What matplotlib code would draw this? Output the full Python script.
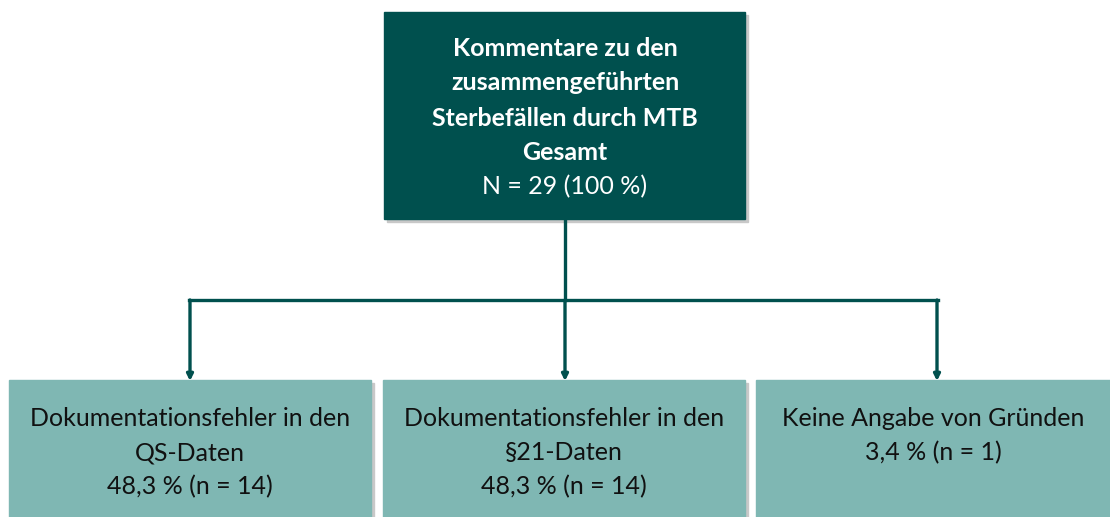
import matplotlib.pyplot as plt
from matplotlib.patches import Rectangle

# chart content
top_title = ['Kommentare zu den', 'zusammengeführten', 'Sterbefällen durch MTB', 'Gesamt']
top_total = 29
categories = ['Dokumentationsfehler in den\nQS-Daten',
              'Dokumentationsfehler in den\n§21-Daten',
              'Keine Angabe von Gründen']
percents = ['48,3', '48,3', '3,4']
counts = [14, 14, 1]

dark = '#00504e'
light = '#7fb7b3'

plt.rcParams['font.family'] = ['Lato', 'DejaVu Sans']

fig = plt.figure(figsize=(11.1, 5.17), dpi=100)
ax = fig.add_axes([0, 0, 1, 1])
ax.set_xlim(0, 1110)
ax.set_ylim(517, 0)
ax.axis('off')


def box(x0, y0, x1, y1, color):
    # soft shadow, then the box
    ax.add_patch(Rectangle((x0 + 3, y0 + 3), x1 - x0, y1 - y0, color='#c8c8c8', zorder=1))
    ax.add_patch(Rectangle((x0, y0), x1 - x0, y1 - y0, color=color, zorder=2))


# top box
box(384, 12, 745, 219, dark)
for i, line in enumerate(top_title):
    ax.text(565, 48 + i * 35, line, ha='center', va='center', color='white',
            fontsize=18, fontweight='bold', zorder=3)
ax.text(565, 187, f'N = {top_total} (100 %)', ha='center', va='center',
        color='white', fontsize=18, zorder=3)

# connectors
ax.plot([565, 565], [219, 300], color=dark, lw=2.4, zorder=2)
ax.plot([189, 938], [300, 300], color=dark, lw=2.4, zorder=2, solid_capstyle='projecting')

bottom_x = [(9, 371), (383, 745), (756, 1110)]
arrow_x = [190, 565, 937]
for (x0, x1), ax_x, cat, p, n in zip(bottom_x, arrow_x, categories, percents, counts):
    box(x0, 380, x1, 530, light)
    ax.annotate('', xy=(ax_x, 381), xytext=(ax_x, 300),
                arrowprops=dict(arrowstyle='-|>', color=dark, lw=2.4,
                                mutation_scale=9, shrinkA=0, shrinkB=0), zorder=3)
    lines = cat.split('\n') + [f'{p} % (n = {n})']
    for i, line in enumerate(lines):
        ax.text((x0 + x1) / 2, 418 + i * 34.5, line, ha='center', va='center',
                color='#111111', fontsize=18, zorder=3)

fig.savefig('out.png', dpi=100)
